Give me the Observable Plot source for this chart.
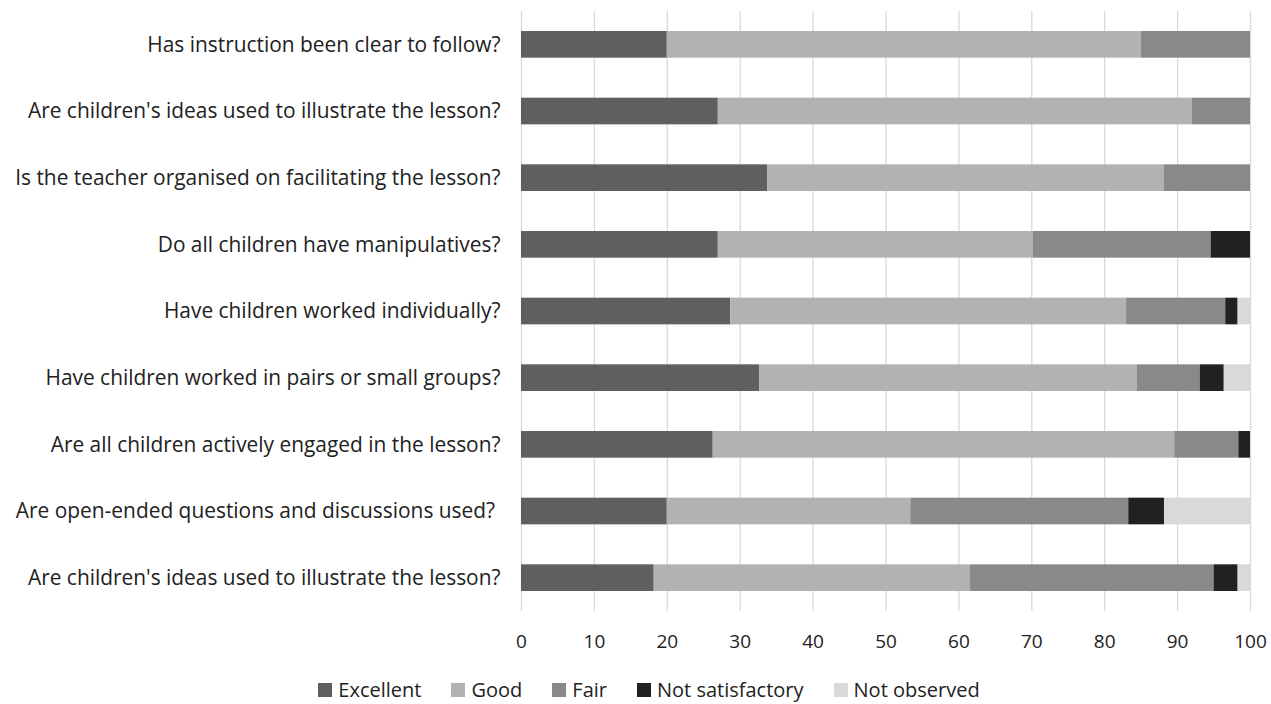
<!DOCTYPE html>
<html>
<head>
<meta charset="utf-8">
<script src="https://cdn.jsdelivr.net/npm/d3@7"></script>
<script src="https://cdn.jsdelivr.net/npm/@observablehq/plot@0.6"></script>
<style>
  html, body { margin: 0; padding: 0; background: #fff; overflow: hidden; }
  #chart { width: 1271px; }
  .legend { display: flex; justify-content: center; gap: 30px; margin-top: 14px; padding-left: 27px; line-height: 22px; height: 24px;
    font-family: "Open Sans", sans-serif; font-size: 20px; color: #222; }
  .legend > div { display: flex; align-items: center; white-space: nowrap; }
  .legend span.sw { display: inline-block; width: 14px; height: 14px; margin-right: 6px; }
</style>
</head>
<body>
<div id="chart"></div>
<script>
const questions = [
  "Has instruction been clear to follow?",
  "Are children's ideas used to illustrate the lesson?",
  "Is the teacher organised on facilitating the lesson?",
  "Do all children have manipulatives?",
  "Have children worked individually?",
  "Have children worked in pairs or small groups?",
  "Are all children actively engaged in the lesson?",
  "Are open-ended questions and discussions used?\u00a0",
  "Are children's ideas used to illustrate the lesson?"
];
const series = ["Excellent", "Good", "Fair", "Not satisfactory", "Not observed"];
const colors = ["#5f5f5f", "#b2b2b2", "#898989", "#212121", "#d9d9d9"];
const excellent      = [20.0, 27.0, 33.8, 27.0, 28.7, 32.7, 26.3, 20.0, 18.2];
const good           = [65.0, 65.0, 54.4, 43.2, 54.3, 51.8, 63.3, 33.4, 43.4];
const fair           = [15.0,  8.0, 11.8, 24.4, 13.6,  8.6,  8.8, 29.9, 33.4];
const notSatisfactory= [ 0.0,  0.0,  0.0,  5.4,  1.7,  3.3,  1.6,  4.9,  3.3];
const notObserved    = [ 0.0,  0.0,  0.0,  0.0,  1.7,  3.6,  0.0, 11.8,  1.7];
const xTicks = [0, 10, 20, 30, 40, 50, 60, 70, 80, 90, 100];

const valuesBySeries = [excellent, good, fair, notSatisfactory, notObserved];
const data = [];
questions.forEach((q, i) => {
  series.forEach((s, j) => {
    data.push({row: i, series: s, value: valuesBySeries[j][i]});
  });
});

const chart = Plot.plot({
  width: 1271,
  height: 664,
  marginLeft: 521,
  marginRight: 21,
  marginTop: 11,
  marginBottom: 53,
  style: {fontFamily: "'Open Sans', sans-serif", fontSize: "17px", color: "#222"},
  x: {domain: [0, 100], label: null},
  y: {domain: d3.range(questions.length), paddingInner: 0.6, paddingOuter: 0.3, round: false, label: null},
  color: {domain: series, range: colors},
  marks: [
    Plot.ruleX(xTicks, {stroke: "#d9d9d9", strokeWidth: 1.3}),
    Plot.barX(data, {x: "value", y: "row", fill: "series", order: series}),
    Plot.axisX({ticks: xTicks, tickSize: 0, tickPadding: 23, label: null, fontSize: 19}),
    Plot.axisY({tickSize: 0, tickPadding: 21, label: null, tickFormat: i => questions[i], fontSize: 20.9})
  ]
});
chart.style.display = "block";
document.getElementById("chart").appendChild(chart);

const legend = document.createElement("div");
legend.className = "legend";
series.forEach((s, j) => {
  const item = document.createElement("div");
  const sw = document.createElement("span");
  sw.className = "sw";
  sw.style.background = colors[j];
  item.appendChild(sw);
  item.appendChild(document.createTextNode(s));
  legend.appendChild(item);
});
document.getElementById("chart").appendChild(legend);
</script>
</body>
</html>
